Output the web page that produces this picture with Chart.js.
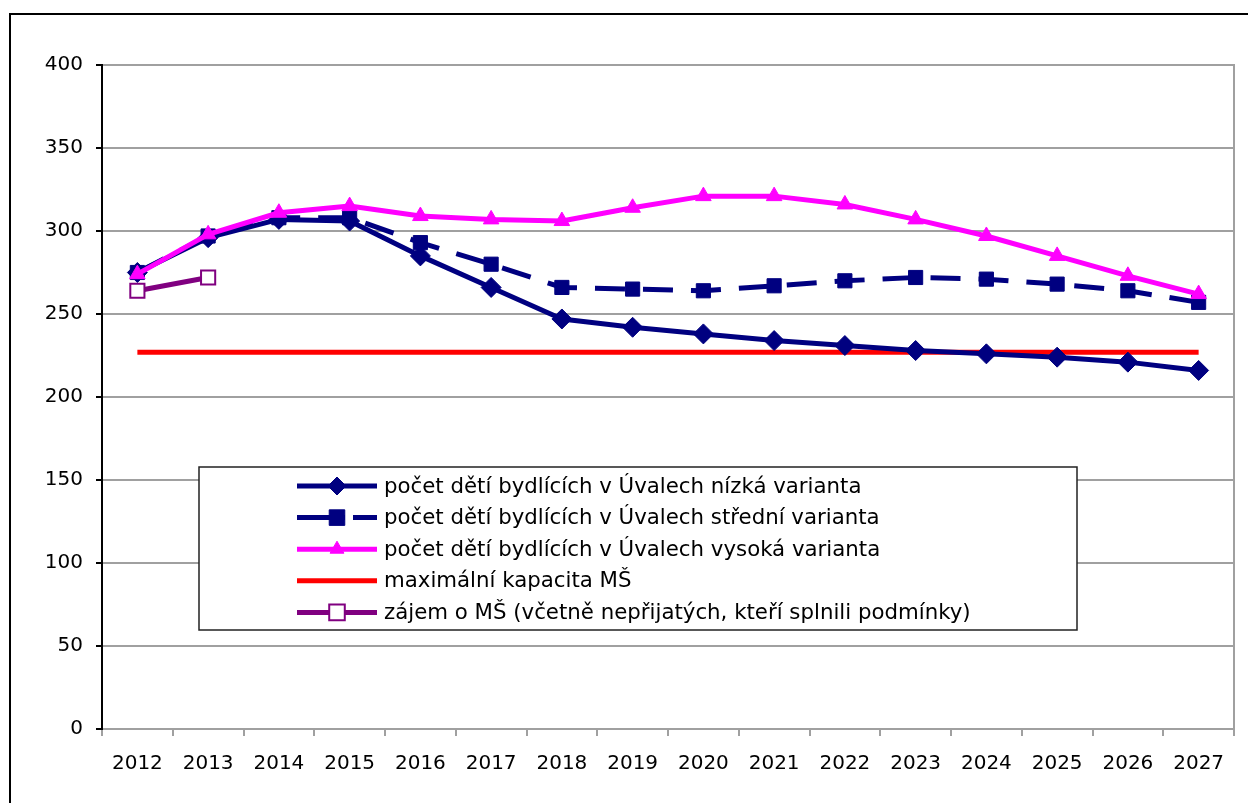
<!DOCTYPE html>
<html>
<head>
<meta charset="utf-8">
<script src="https://cdn.jsdelivr.net/npm/chart.js@4"></script>
<style>
  html, body { margin: 0; padding: 0; background: #fff; overflow: hidden; }
  #frame { position: absolute; left: 9px; top: 13px; width: 1400px; height: 1000px; border: 2px solid #000; }
  #wrap { position: absolute; left: 0; top: 0; width: 1248px; height: 803px; }
</style>
</head>
<body>
<div id="frame"></div>
<div id="wrap"><canvas id="chart" width="1248" height="803"></canvas></div>
<script>
// categories
const years = ['2012', '2013', '2014', '2015', '2016', '2017', '2018', '2019',
               '2020', '2021', '2022', '2023', '2024', '2025', '2026', '2027'];

// series values
const lowVariant  = [275, 296, 307, 306, 285, 266, 247, 242, 238, 234, 231, 228, 226, 224, 221, 216];
const midVariant  = [275, 297, 308, 308, 293, 280, 266, 265, 264, 267, 270, 272, 271, 268, 264, 257];
const highVariant = [274, 298, 311, 315, 309, 307, 306, 314, 321, 321, 316, 307, 297, 285, 273, 262];
const capacity    = [227, 227, 227, 227, 227, 227, 227, 227, 227, 227, 227, 227, 227, 227, 227, 227];
const demand      = [264, 272, null, null, null, null, null, null, null, null, null, null, null, null, null, null];

const seriesLabels = [
  'počet dětí bydlících v Úvalech nízká varianta',
  'počet dětí bydlících v Úvalech střední varianta',
  'počet dětí bydlících v Úvalech vysoká varianta',
  'maximální kapacita MŠ',
  'zájem o MŠ (včetně nepřijatých, kteří splnili podmínky)'
];

// y axis ticks
const yMin = 0, yMax = 400, yStep = 50;

const NAVY = '#000080', MAGENTA = '#ff00ff', RED = '#ff0000', PURPLE = '#800080';
const GRID = '#a0a0a0';
const FONT = '"DejaVu Sans", Verdana, sans-serif';

// legend box drawn inside the plot + right border of plot area
const boxLegend = {
  id: 'boxLegend',
  afterDraw(chart) {
    const ctx = chart.ctx, a = chart.chartArea;
    ctx.save();
    ctx.strokeStyle = GRID;
    ctx.lineWidth = 2;
    ctx.beginPath();
    ctx.moveTo(a.right, a.top - 1);
    ctx.lineTo(a.right, a.bottom + 7);
    ctx.stroke();

    const x0 = a.left + 97, y0 = a.top + 402, w = 878, h = 163;
    ctx.fillStyle = '#fff';
    ctx.fillRect(x0, y0, w, h);
    ctx.strokeStyle = '#222';
    ctx.lineWidth = 1.5;
    ctx.strokeRect(x0, y0, w, h);

    chart.data.datasets.forEach((ds, i) => {
      const cy = y0 + 19 + i * 31.6;
      const lx = x0 + 98, rx = x0 + 178, mx = x0 + 138;
      ctx.save();
      ctx.strokeStyle = ds.borderColor;
      ctx.lineWidth = ds.borderWidth;
      ctx.beginPath();
      if (ds.borderDash) {
        ctx.moveTo(lx, cy); ctx.lineTo(mx + 8, cy);
        ctx.moveTo(mx + 16, cy); ctx.lineTo(rx, cy);
      } else {
        ctx.moveTo(lx, cy); ctx.lineTo(rx, cy);
      }
      ctx.stroke();
      if (ds.pointRadius > 0 && Chart.helpers && Chart.helpers.drawPoint) {
        ctx.fillStyle = ds.pointBackgroundColor;
        ctx.strokeStyle = ds.pointBorderColor;
        ctx.lineWidth = ds.pointBorderWidth;
        Chart.helpers.drawPoint(ctx, {
          pointStyle: ds.pointStyle,
          radius: ds.pointStyle === 'rect' ? ds.pointRadius + 1 : ds.pointRadius - 1,
          borderWidth: ds.pointBorderWidth,
          rotation: 0
        }, mx, cy);
      }
      ctx.restore();
      ctx.fillStyle = '#000';
      ctx.font = '21.3px ' + FONT;
      ctx.textBaseline = 'middle';
      ctx.textAlign = 'left';
      ctx.fillText(ds.label, x0 + 185, cy + 1);
    });
    ctx.restore();
  }
};

new Chart(document.getElementById('chart'), {
  type: 'line',
  data: {
    labels: years,
    datasets: [
      {
        label: seriesLabels[0], data: lowVariant, order: 4,
        borderColor: NAVY, borderWidth: 5, borderJoinStyle: 'round',
        pointStyle: 'rectRot', pointRadius: 10, pointBorderWidth: 1,
        pointBackgroundColor: NAVY, pointBorderColor: NAVY
      },
      {
        label: seriesLabels[1], data: midVariant, order: 3,
        borderColor: NAVY, borderWidth: 5, borderDash: [30, 18],
        pointStyle: 'rect', pointRadius: 10, pointBorderWidth: 1,
        pointBackgroundColor: NAVY, pointBorderColor: NAVY
      },
      {
        label: seriesLabels[2], data: highVariant, order: 2,
        borderColor: MAGENTA, borderWidth: 5, borderJoinStyle: 'round',
        pointStyle: 'triangle', pointRadius: 9, pointBorderWidth: 1,
        pointBackgroundColor: MAGENTA, pointBorderColor: MAGENTA
      },
      {
        label: seriesLabels[3], data: capacity, order: 10,
        borderColor: RED, borderWidth: 5,
        pointRadius: 0, pointBorderWidth: 0,
        pointBackgroundColor: RED, pointBorderColor: RED
      },
      {
        label: seriesLabels[4], data: demand, order: 1,
        borderColor: PURPLE, borderWidth: 5,
        pointStyle: 'rect', pointRadius: 10, pointBorderWidth: 2,
        pointBackgroundColor: '#fff', pointBorderColor: PURPLE
      }
    ]
  },
  options: {
    responsive: false,
    devicePixelRatio: 1,
    animation: false,
    events: [],
    layout: { padding: { left: 20, top: 65, right: 14, bottom: 0 } },
    elements: { line: { tension: 0 } },
    plugins: { legend: { display: false }, tooltip: { enabled: false } },
    scales: {
      x: {
        offset: true,
        grid: { offset: true, drawOnChartArea: false, color: GRID, lineWidth: 2, tickLength: 7 },
        border: { color: GRID, width: 2 },
        ticks: { color: '#000', font: { family: FONT, size: 20 }, padding: 16, maxRotation: 0 },
        afterFit(scale) { scale.height = 74; }
      },
      y: {
        min: yMin, max: yMax,
        grid: { color: GRID, lineWidth: 2, tickColor: '#000', tickLength: 6 },
        border: { color: '#000', width: 2 },
        ticks: { stepSize: yStep, color: '#000', font: { family: FONT, size: 20 }, padding: 13 },
        afterFit(scale) { scale.width = 82; }
      }
    }
  },
  plugins: [boxLegend]
});
</script>
</body>
</html>
